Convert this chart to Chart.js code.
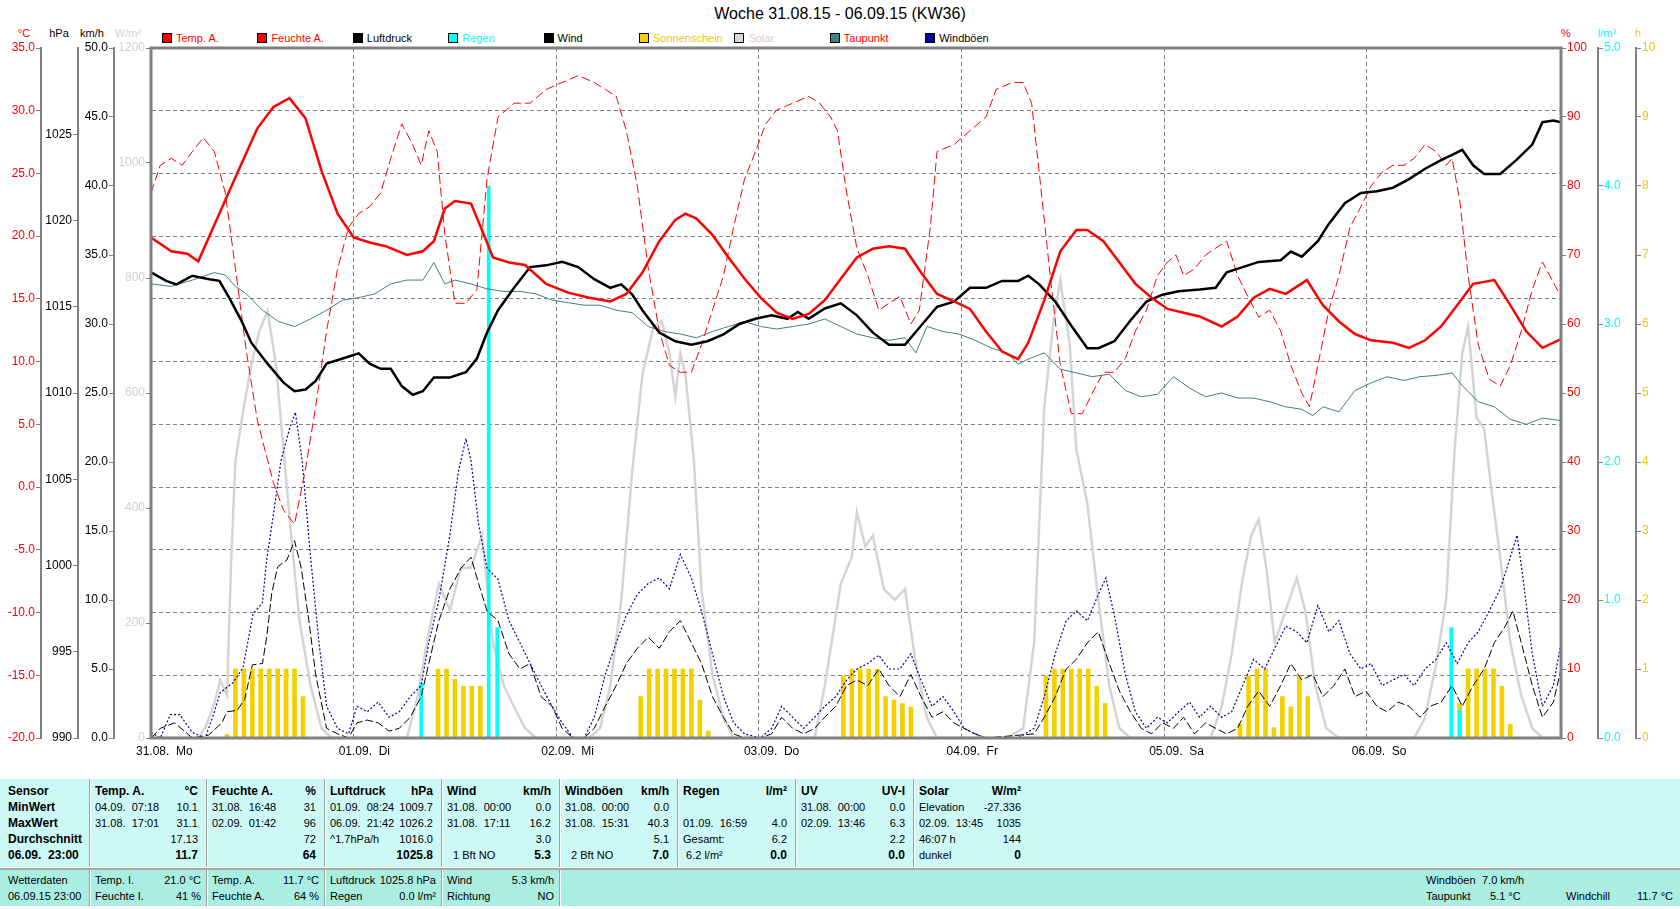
<!DOCTYPE html>
<html lang="de">
<head>
  <meta charset="UTF-8">
  <title>Woche 31.08.15 - 06.09.15 (KW36)</title>
  <script src="https://cdn.jsdelivr.net/npm/chart.js"></script>
  <style>
    body { margin: 0; width: 1680px; height: 909px; overflow: hidden; background: #fff;
           font-family: "Liberation Sans", Arial, sans-serif; color: #000; }
    .abs { position: absolute; white-space: pre; }
    #title { left: 0; top: 5px; width: 1680px; text-align: center; font-size: 16px; }
    .unit { top: 27px; font-size: 11px; width: 40px; text-align: center; }
    .leg { top: 32px; font-size: 11px; height: 13px; line-height: 13px; }
    .leg i { display: inline-block; width: 10px; height: 10px; box-sizing: border-box;
             border: 1px solid #000; vertical-align: -1px; margin-right: 4px; }
    .panel { position: absolute; left: 0; width: 1680px; font-size: 11px; }
    #stats { top: 779px; height: 88px; background: #ccf9f5; }
    #current { top: 868px; height: 38px; background: #aaeee2; border-top: 2px solid #a8a8a8; box-sizing: border-box; }
    .col { position: absolute; top: 0; height: 100%; box-sizing: border-box; padding: 4px 8px 0 5px;
           border-left: 1px solid #a0a0a0; box-shadow: inset 1px 0 0 #fff; }
    #current .col { padding: 2px 5px 0 5px; }
    .row { height: 16px; line-height: 16px; display: flex; justify-content: space-between; white-space: pre; }
    .b { font-weight: bold; font-size: 12px; }
  </style>
</head>
<body>

<div id="title" class="abs">Woche 31.08.15 - 06.09.15 (KW36)</div>
<div class="abs unit" style="left:4px;color:#ff0000">°C</div>
<div class="abs unit" style="left:39px">hPa</div>
<div class="abs unit" style="left:72px">km/h</div>
<div class="abs unit" style="left:108px;color:#d0d0d0">W/m²</div>
<div class="abs unit" style="left:1546px;color:#ff0000">%</div>
<div class="abs unit" style="left:1587px;color:#00ffff">l/m²</div>
<div class="abs unit" style="left:1618px;color:#f0c800">h</div>
<div id="legend"></div>

<div style="position:absolute;left:0;top:0;width:1680px;height:775px">
  <canvas id="weekChart" width="1680" height="775"></canvas>
</div>

<div id="stats" class="panel">
  <div class="col" style="left:0;width:89px;border-left:none;box-shadow:none;padding-left:8px">
    <div class="row b">Sensor</div><div class="row b">MinWert</div><div class="row b">MaxWert</div>
    <div class="row b">Durchschnitt</div><div class="row b">06.09.  23:00</div>
  </div>
  <div class="col" style="left:89px;width:117px">
    <div class="row b"><span>Temp. A.</span><span>°C</span></div>
    <div class="row"><span>04.09.  07:18</span><span>10.1</span></div>
    <div class="row"><span>31.08.  17:01</span><span>31.1</span></div>
    <div class="row"><span></span><span>17.13</span></div>
    <div class="row"><span></span><span class="b">11.7</span></div>
  </div>
  <div class="col" style="left:206px;width:118px">
    <div class="row b"><span>Feuchte A.</span><span>%</span></div>
    <div class="row"><span>31.08.  16:48</span><span>31</span></div>
    <div class="row"><span>02.09.  01:42</span><span>96</span></div>
    <div class="row"><span></span><span>72</span></div>
    <div class="row"><span></span><span class="b">64</span></div>
  </div>
  <div class="col" style="left:324px;width:117px">
    <div class="row b"><span>Luftdruck</span><span>hPa</span></div>
    <div class="row"><span>01.09.  08:24</span><span>1009.7</span></div>
    <div class="row"><span>06.09.  21:42</span><span>1026.2</span></div>
    <div class="row"><span>^1.7hPa/h</span><span>1016.0</span></div>
    <div class="row"><span></span><span class="b">1025.8</span></div>
  </div>
  <div class="col" style="left:441px;width:118px">
    <div class="row b"><span>Wind</span><span>km/h</span></div>
    <div class="row"><span>31.08.  00:00</span><span>0.0</span></div>
    <div class="row"><span>31.08.  17:11</span><span>16.2</span></div>
    <div class="row"><span></span><span>3.0</span></div>
    <div class="row"><span>  1 Bft NO</span><span class="b">5.3</span></div>
  </div>
  <div class="col" style="left:559px;width:118px">
    <div class="row b"><span>Windböen</span><span>km/h</span></div>
    <div class="row"><span>31.08.  00:00</span><span>0.0</span></div>
    <div class="row"><span>31.08.  15:31</span><span>40.3</span></div>
    <div class="row"><span></span><span>5.1</span></div>
    <div class="row"><span>  2 Bft NO</span><span class="b">7.0</span></div>
  </div>
  <div class="col" style="left:677px;width:118px">
    <div class="row b"><span>Regen</span><span>l/m²</span></div>
    <div class="row"><span></span><span></span></div>
    <div class="row"><span>01.09.  16:59</span><span>4.0</span></div>
    <div class="row"><span>Gesamt:</span><span>6.2</span></div>
    <div class="row"><span> 6.2 l/m²</span><span class="b">0.0</span></div>
  </div>
  <div class="col" style="left:795px;width:118px">
    <div class="row b"><span>UV</span><span>UV-I</span></div>
    <div class="row"><span>31.08.  00:00</span><span>0.0</span></div>
    <div class="row"><span>02.09.  13:46</span><span>6.3</span></div>
    <div class="row"><span></span><span>2.2</span></div>
    <div class="row"><span></span><span class="b">0.0</span></div>
  </div>
  <div class="col" style="left:913px;width:118px;padding-right:10px">
    <div class="row b"><span>Solar</span><span>W/m²</span></div>
    <div class="row"><span>Elevation</span><span>-27.336</span></div>
    <div class="row"><span>02.09.  13:45</span><span>1035</span></div>
    <div class="row"><span>46:07 h</span><span>144</span></div>
    <div class="row"><span>dunkel</span><span class="b">0</span></div>
  </div>
</div>

<div id="current" class="panel">
  <div class="col" style="left:0;width:89px;border-left:none;box-shadow:none;padding-left:8px">
    <div class="row">Wetterdaten</div><div class="row">06.09.15 23:00</div>
  </div>
  <div class="col" style="left:89px;width:117px">
    <div class="row"><span>Temp. I.</span><span>21.0 °C</span></div>
    <div class="row"><span>Feuchte I.</span><span>41 %</span></div>
  </div>
  <div class="col" style="left:206px;width:118px">
    <div class="row"><span>Temp. A.</span><span>11.7 °C</span></div>
    <div class="row"><span>Feuchte A.</span><span>64 %</span></div>
  </div>
  <div class="col" style="left:324px;width:117px">
    <div class="row"><span>Luftdruck</span><span>1025.8 hPa</span></div>
    <div class="row"><span>Regen</span><span>0.0 l/m²</span></div>
  </div>
  <div class="col" style="left:441px;width:118px">
    <div class="row"><span>Wind</span><span>5.3 km/h</span></div>
    <div class="row"><span>Richtung</span><span>NO</span></div>
  </div>
  <div class="col" style="left:559px;width:1121px;padding:0">
    <div class="abs" style="left:866px;top:2px;line-height:16px">Windböen</div>
    <div class="abs" style="left:922px;top:2px;line-height:16px">7.0 km/h</div>
    <div class="abs" style="left:866px;top:18px;line-height:16px">Taupunkt</div>
    <div class="abs" style="left:930px;top:18px;line-height:16px">5.1 °C</div>
    <div class="abs" style="left:1006px;top:18px;line-height:16px">Windchill</div>
    <div class="abs" style="right:7px;top:18px;line-height:16px">11.7 °C</div>
  </div>
</div>

<script>
  // x = Stunden seit 31.08. 00:00
  const dayLabels = ['31.08.  Mo', '01.09.  Di', '02.09.  Mi', '03.09.  Do', '04.09.  Fr', '05.09.  Sa', '06.09.  So'];

  const tempHours = [0,2.4,4.3,5.6,7.5,10.0,12.6,14.5,16.4,18.3,20.2,22.1,24.0,25.9,27.8,30.3,32.2,33.5,34.8,36.0,37.9,39.2,40.5,42.4,44.3,46.8,49.4,51.9,54.4,56.3,58.2,60.2,62.1,63.3,64.6,66.5,68.4,70.3,72.2,74.1,76.0,77.9,79.8,81.7,83.6,85.5,87.4,89.3,91.2,93.1,95.1,97.0,98.9,100.8,102.7,103.9,105.8,107.7,109.6,110.9,112.8,114.7,116.6,118.5,120.4,122.3,124.2,126.8,128.7,130.6,132.5,134.4,136.9,138.8,140.7,142.6,144.5,147.1,149.0,150.9,152.8,154.7,156.6,159.1,161.0,162.9,164.8,167];
  const tempValues = [19.9,18.8,18.6,18.0,20.9,24.7,28.6,30.3,31.0,29.4,25.2,21.8,19.9,19.5,19.2,18.5,18.8,19.6,22.2,22.8,22.6,20.5,18.3,17.9,17.7,16.2,15.5,15.1,14.8,15.4,17.1,19.6,21.3,21.8,21.4,20.1,18.3,16.6,15.1,13.9,13.4,13.8,14.9,16.6,18.3,19.0,19.2,19.0,17.1,15.4,14.8,14.2,12.4,10.8,10.2,11.5,14.9,18.8,20.5,20.5,19.6,17.9,16.2,15.1,14.2,13.9,13.6,12.8,13.6,15.1,15.8,15.4,16.5,14.5,13.2,12.2,11.7,11.5,11.1,11.7,12.8,14.5,16.2,16.5,14.5,12.4,11.1,11.8];

  const humHours = [0,1.1,2.4,3.7,4.9,6.2,7.5,8.8,10.0,11.3,12.6,14.5,15.7,17.0,18.3,19.5,20.8,22.1,23.4,24.6,25.9,27.2,28.4,29.7,31.0,32.0,32.9,33.9,34.8,36.0,37.3,38.6,39.8,41.1,43.0,44.9,46.8,48.7,50.6,52.5,53.8,55.1,56.3,57.6,58.9,60.2,61.4,62.7,64.0,65.2,66.5,67.8,69.0,70.3,71.6,72.8,74.1,76.0,77.9,79.2,80.5,81.3,82.4,83.6,84.9,86.2,87.4,88.7,90.0,91.0,92.3,93.1,95.1,97.0,98.9,100.1,102.0,103.3,104.3,105.2,106.5,107.7,109.0,110.3,111.5,112.8,114.1,115.4,116.6,117.9,119.2,120.4,121.4,122.3,123.6,124.9,126.1,127.4,128.7,129.9,131.2,132.5,133.8,135.0,136.3,137.2,138.2,139.5,140.7,142.0,143.3,144.5,145.8,147.1,148.4,149.6,150.9,152.2,153.4,154.1,155.0,156.0,157.2,158.5,159.8,161.0,162.3,163.6,164.8,166.1,167];
  const humValues = [79,83,84,83,85,87,85,79,68,56,46,37,33,31,39,48,59,68,74,76,77,79,84,89,86,83,88,85,73,63,63,65,81,90,92,92,94,95,96,95,94,93,88,80,68,59,54,53,53,57,62,67,74,81,85,89,91,92,93,92,90,88,79,71,67,62,63,64,60,62,74,85,86,88,90,94,95,95,92,82,67,54,47,47,50,53,53,55,59,62,67,69,70,67,68,70,71,72,67,64,61,62,59,54,50,48,54,62,67,74,77,80,82,83,83,84,86,85,83,84,78,67,57,52,51,54,59,65,69,66,64];

  const presHours = [0,1.8,3.0,4.9,6.9,8.1,9.4,10.7,11.9,13.8,15.7,17.0,18.3,19.5,20.8,22.7,24.6,25.9,27.2,28.4,29.7,31.0,32.2,33.5,35.4,37.3,38.6,39.8,41.1,43.0,44.9,46.8,48.7,50.6,52.5,54.4,55.7,57.0,58.2,60.2,62.1,64.0,65.9,67.8,69.7,71.6,73.5,75.4,76.6,77.9,79.8,81.7,83.6,85.5,87.4,89.3,91.2,93.1,95.1,97.0,98.9,100.8,102.7,103.9,105.2,107.1,109.0,110.9,112.2,114.1,116.0,117.9,119.8,121.7,124.2,126.1,127.4,129.3,131.2,133.8,135.0,136.3,138.2,139.5,141.4,143.3,145.2,147.1,149.0,150.9,152.8,154.1,155.3,156.6,157.9,159.8,161.7,163.6,164.8,166.1,167];
  const presValues = [1017.0,1016.5,1016.3,1016.8,1016.6,1016.5,1015.4,1014.2,1012.9,1011.7,1010.6,1010.1,1010.2,1010.7,1011.7,1012.0,1012.3,1011.7,1011.4,1011.4,1010.4,1009.9,1010.1,1010.9,1010.9,1011.2,1012.0,1013.5,1014.8,1016.1,1017.3,1017.4,1017.6,1017.3,1016.6,1016.1,1016.3,1015.7,1014.8,1013.5,1013.0,1012.8,1013.0,1013.4,1014.0,1014.3,1014.5,1014.3,1014.7,1014.3,1014.9,1015.2,1014.5,1013.5,1012.8,1012.8,1013.9,1015.0,1015.3,1016.1,1016.1,1016.5,1016.5,1016.8,1016.3,1015.3,1013.9,1012.6,1012.6,1013.0,1014.2,1015.3,1015.7,1015.9,1016.0,1016.1,1017.0,1017.3,1017.6,1017.7,1018.2,1017.9,1018.8,1019.8,1021.0,1021.6,1021.7,1021.9,1022.4,1023.0,1023.5,1023.8,1024.1,1023.2,1022.7,1022.7,1023.5,1024.4,1025.7,1025.8,1025.7];

  const dewHours = [0,2.4,4.9,7.5,8.8,10.0,11.3,13.2,15.1,17.0,18.9,20.8,22.7,24.6,26.5,28.4,30.3,32.2,33.5,34.8,36.0,37.9,39.8,41.8,43.7,45.6,47.5,49.4,51.3,53.2,55.1,57.0,58.9,60.8,62.7,64.6,66.5,68.4,70.3,72.2,74.1,76.0,77.9,79.8,81.7,83.6,85.5,87.4,89.3,90.6,91.9,93.8,95.7,97.6,99.5,101.4,102.7,103.9,105.8,107.7,109.6,111.5,113.5,115.4,117.3,119.2,121.1,123.0,124.9,126.8,128.7,130.6,132.5,134.4,136.3,137.6,138.8,140.7,142.6,144.5,146.4,148.4,150.3,152.2,154.1,155.3,157.2,159.1,161.0,162.9,164.8,167];
  const dewValues = [16.2,16.0,16.5,17.1,16.9,16.0,15.4,14.1,13.2,12.8,13.4,14.1,14.9,15.1,15.4,16.2,16.5,16.5,17.9,16.2,16.5,16.2,15.8,15.6,15.6,15.4,14.9,14.7,14.5,14.5,14.1,13.9,12.8,12.4,12.2,11.9,12.4,12.8,13.2,12.8,12.6,12.8,13.0,13.4,12.8,12.2,11.9,11.7,11.9,10.7,12.8,12.4,12.2,11.7,11.1,10.7,9.8,10.2,10.7,9.4,9.1,8.8,9.0,7.7,7.2,7.4,8.8,7.9,7.2,7.5,7.1,7.1,6.8,6.4,6.2,5.7,6.4,6.0,7.7,8.3,8.8,8.5,8.8,8.9,9.1,8.1,6.8,6.4,5.4,5.0,5.5,5.3];

  const solarHours = [0,5.6,6.5,7.5,8.2,9.0,9.5,10.0,11.0,11.9,12.8,13.8,14.8,15.7,16.6,17.6,18.9,20.2,21.4,
    30.3,31.6,32.9,34.1,35.4,36.7,37.9,39.2,40.5,41.8,43.0,44.3,45.6,
    51.9,53.2,54.4,55.7,57.0,58.2,59.5,60.5,61.4,62.1,62.7,63.3,64.3,65.2,66.5,67.8,69.0,
    78.6,79.8,81.7,83.0,83.6,84.6,85.5,86.8,88.1,89.3,90.6,91.9,93.1,
    101.4,103.3,104.6,105.8,106.9,107.7,108.8,109.6,110.9,112.2,113.5,114.7,116.0,
    125.5,126.8,128.0,129.3,130.3,131.2,132.1,133.1,134.4,135.7,136.7,137.9,139.2,140.7,
    149.6,150.9,152.2,153.4,154.4,155.3,156.0,157.0,157.9,158.8,159.8,161.0,162.3,163.6,164.8,167];
  const solarValues = [0,0,20,60,100,75,310,483,576,650,706,743,650,501,352,203,91,17,0,
    0,73,184,268,222,296,296,352,166,91,54,17,0,
    0,17,91,240,464,632,715,725,669,594,669,632,483,259,110,35,0,
    0,91,268,315,393,333,352,259,240,259,128,35,0,
    0,17,166,576,725,796,687,501,408,240,91,17,0,
    0,54,147,278,352,380,296,166,222,278,222,91,17,0,
    0,35,128,240,501,669,715,557,538,427,315,166,73,17,0,0];

  const windHours = [0,1.1,2.8,4.9,6.8,8.4,9.0,10.2,11.1,12.0,13.2,13.7,14.3,15.0,16.1,17.0,17.8,18.7,19.5,20.8,22.1,23.4,24.4,25.6,26.9,28.2,29.4,30.7,32.0,32.9,34.1,35.4,36.7,37.9,38.8,39.8,41.1,42.4,43.7,44.9,46.2,47.5,48.7,50.0,51.3,52.5,53.8,55.1,56.3,57.6,58.9,60.2,61.4,62.7,64.0,65.2,66.5,67.8,69.0,70.3,72.2,73.5,74.7,76.0,77.3,78.6,79.8,81.1,82.4,83.6,84.9,86.2,87.4,88.7,90.0,91.2,92.5,93.8,95.1,96.3,97.6,98.9,104.6,105.8,107.1,108.4,109.6,110.9,112.2,113.5,114.7,116.0,117.3,118.5,119.8,121.1,122.3,123.6,124.9,126.1,127.4,128.7,129.9,131.2,132.5,133.8,135.0,136.3,137.6,138.8,140.1,141.4,142.6,143.9,145.2,146.4,147.7,149.0,150.3,151.5,152.8,154.1,155.3,156.6,157.9,159.1,160.4,161.3,162.3,163.6,164.8,166.1,167];
  const windValues = [0,0.7,1.1,0,0.2,1.1,1.9,2.0,2.8,5.3,5.4,7.3,10.5,12.4,12.9,14.3,12.3,8.5,4.6,0.7,0.3,0,1.1,1.3,1.1,0.5,0.7,1.5,3.0,5.4,8.5,10.8,12.3,13.1,11.2,9.2,8.5,6.1,5.0,5.4,3.0,2.3,0.7,0,0,0.7,2.3,3.8,5.4,6.5,7.3,6.5,7.7,8.5,6.9,5.4,3.0,1.5,0.3,0,0,0.3,1.5,0.7,0.3,0.7,1.5,2.3,3.8,4.2,3.8,5.0,3.8,3.0,4.6,3.0,1.5,1.9,1.1,0.7,0.3,0,0.3,1.5,3.0,5.0,5.7,6.9,7.7,5.4,3.4,1.9,0.7,0.3,1.1,0.7,1.5,0.3,1.1,0.7,0.3,0.7,2.3,3.4,2.3,3.8,5.4,4.2,4.6,3.0,3.8,5.0,3.0,3.4,2.3,1.9,2.6,2.3,1.5,2.3,2.6,3.8,2.3,3.8,5.0,6.9,8.1,9.2,6.9,3.8,1.5,2.6,5.0];

  const gustHours = [0,1.1,2.3,3.4,4.9,6.4,7.3,8.2,9.7,10.9,12.1,13.2,13.7,14.5,15.4,16.4,17.1,17.9,18.9,19.9,20.8,22.1,23.4,24.4,25.6,26.9,28.2,29.4,30.7,32.0,32.9,34.1,35.4,36.4,37.3,37.9,38.8,39.8,41.1,42.4,43.7,44.9,46.2,47.5,48.7,50.0,51.3,52.5,53.8,55.1,56.3,57.6,58.9,60.2,61.4,62.7,64.0,65.2,66.5,67.8,69.0,70.3,72.2,73.5,74.7,76.0,77.3,78.6,79.8,81.1,82.4,83.6,84.9,86.2,87.4,88.7,90.0,91.2,92.5,93.8,95.1,96.3,97.6,98.9,102.7,104.6,105.8,107.1,108.4,109.6,110.9,112.2,113.1,114.1,115.4,116.6,117.9,119.2,120.4,121.7,123.0,124.2,125.5,126.8,128.0,129.3,130.6,131.9,133.1,134.4,135.7,136.9,138.2,139.5,140.7,142.0,143.3,144.5,145.8,147.1,148.4,149.6,150.9,152.2,153.4,154.7,156.0,157.2,158.5,159.8,161.0,161.8,162.5,163.6,164.8,166.1,167];
  const gustValues = [0.4,0,1.7,1.7,0.4,0,1.5,3.3,4.0,5.1,9.0,9.8,12.9,16.2,20.1,22.4,23.6,20.1,13.1,6.9,2.3,0.7,0.3,2.3,1.9,2.6,1.5,1.9,3.0,3.8,6.9,10.0,14.7,19.3,21.7,20.1,15.5,12.3,11.5,8.5,6.9,5.4,3.8,2.3,1.1,0,0,1.5,4.6,6.9,8.9,10.4,11.2,11.6,10.8,13.3,11.6,9.2,6.1,3.0,1.1,0.3,0,0.7,2.3,1.5,0.7,1.5,2.3,3.0,4.2,5.0,5.4,6.0,5.0,5.0,6.1,4.2,2.3,3.0,1.9,0.7,0.3,0,0,0.7,3.0,6.1,8.5,9.2,8.5,10.4,11.6,8.9,4.6,1.9,0.7,1.5,1.1,1.9,2.6,1.5,2.3,1.5,1.9,3.8,5.7,5.0,6.5,8.1,7.7,6.9,9.6,7.7,8.5,6.1,5.0,5.4,3.8,4.2,4.6,3.8,5.0,5.7,6.9,5.4,6.9,7.7,9.2,10.8,13.1,14.7,11.6,6.1,2.3,3.8,6.9];

  const sunHours = [9,10,11,12,13,14,15,16,17,18, 34,35,36,37,38,39, 58,59,60,61,62,63,64,65,66, 82,83,84,85,86,87,88,89,90, 106,107,108,109,110,111,112,113, 129,130,131,132,133,134,135,136,137, 155,156,157,158,159,160,161];
  const sunValues = [0.05,1,1,1,1,1,1,1,1,0.6, 1,1,0.85,0.75,0.75,0.75, 0.6,1,1,1,1,1,1,0.55,0.1, 0.9,1,1,1,1,0.6,0.55,0.5,0.45, 0.9,1,1,1,1,1,0.75,0.5, 0.2,0.9,1,1,0.15,0.6,0.45,0.9,0.6, 0.5,1,1,1,1,0.75,0.2];

  const rainHours = [32, 40, 41, 154, 155];
  const rainValues = [0.4, 4.0, 0.8, 0.8, 0.2];

  const legendNames = ['Temp. A.', 'Feuchte A.', 'Luftdruck', 'Regen', 'Wind', 'Sonnenschein', 'Solar', 'Taupunkt', 'Windböen'];
  const legendBoxColors = ['#ff0000', '#ff0000', '#000000', '#00ffff', '#000000', '#f5d000', '#d8d8d8', '#408080', '#0000a0'];
  const legendTextColors = ['#ff0000', '#ff0000', '#000000', '#00ffff', '#000000', '#f0c800', '#d0d0d0', '#ff0000', '#000000'];

  const legend = document.getElementById('legend');
  legendNames.forEach((name, i) => {
    const d = document.createElement('div');
    d.className = 'abs leg';
    d.style.left = (162 + i * 95.4) + 'px';
    d.style.color = legendTextColors[i];
    d.innerHTML = '<i style="background:' + legendBoxColors[i] + '"></i>';
    d.appendChild(document.createTextNode(name));
    legend.appendChild(d);
  });

  const toPoints = (hours, values) => hours.map((h, i) => ({ x: h, y: values[i] }));

  Chart.defaults.font.family = '"Liberation Sans", Arial, sans-serif';
  Chart.defaults.font.size = 12;

  const gray = '#808080';
  function sideAxis(position, weight, width, min, max, step, color, fmt) {
    return {
      type: 'linear', position: position, weight: weight, min: min, max: max,
      ticks: { stepSize: step, color: color, padding: 1, autoSkip: false, callback: fmt },
      grid: { drawOnChartArea: false, color: gray, tickLength: 5 },
      border: { color: gray, width: 2 },
      afterFit: scale => { scale.width = width; }
    };
  }

  const plotFrame = {
    id: 'plotFrame',
    afterDraw(chart) {
      const { ctx, chartArea: a } = chart;
      ctx.save();
      ctx.strokeStyle = gray;
      ctx.lineWidth = 3;
      ctx.strokeRect(a.left, a.top, a.right - a.left, a.bottom - a.top);
      ctx.restore();
    }
  };

  const line = (label, hours, values, axis, color, width, dash, order) => ({
    type: 'line', label: label, data: toPoints(hours, values), yAxisID: axis,
    borderColor: color, backgroundColor: color, borderWidth: width, borderDash: dash,
    pointRadius: 0, tension: 0, order: order
  });

  const ctx = document.getElementById('weekChart').getContext('2d');
  const chart = new Chart(ctx, {
    type: 'line',
    data: {
      datasets: [
        line('Solar', solarHours, solarValues, 'ySolar', '#d4d4d4', 2.5, [], 9),
        { type: 'bar', label: 'Sonnenschein', data: toPoints(sunHours, sunValues), yAxisID: 'ySun',
          backgroundColor: '#f5d000', barThickness: 4, grouped: false, order: 8 },
        { type: 'bar', label: 'Regen', data: toPoints(rainHours, rainValues), yAxisID: 'yRain',
          backgroundColor: '#00ffff', barThickness: 3, grouped: false, order: 7 },
        line('Taupunkt', dewHours, dewValues, 'yTemp', '#408080', 1, [], 6),
        line('Wind', windHours, windValues, 'yWind', '#000000', 1, [8, 3], 5),
        line('Windböen', gustHours, gustValues, 'yWind', '#0000a0', 1.2, [2, 2], 4),
        line('Feuchte A.', humHours, humValues, 'yHum', '#ff0000', 1, [9, 4], 3),
        line('Luftdruck', presHours, presValues, 'yPres', '#000000', 2.5, [], 2),
        line('Temp. A.', tempHours, tempValues, 'yTemp', '#ff0000', 2.5, [], 1)
      ]
    },
    options: {
      responsive: false,
      animation: false,
      layout: { padding: { top: 48, bottom: 7, left: 0, right: 0 } },
      plugins: { legend: { display: false }, tooltip: { enabled: false }, title: { display: false } },
      scales: {
        x: {
          type: 'linear', min: 0, max: 167, offset: false,
          ticks: { stepSize: 24, includeBounds: false, autoSkip: false, maxRotation: 0, color: '#000',
                   align: 'start', labelOffset: -15, padding: 6,
                   callback: v => dayLabels[v / 24] },
          grid: { color: gray, drawTicks: false, offset: false },
          border: { display: false, dash: [4, 3] },
          afterFit: scale => { scale.height = 30; }
        },
        yTemp: {
          type: 'linear', position: 'left', weight: 4, min: -20, max: 35,
          ticks: { stepSize: 5, color: '#ff0000', padding: 1, autoSkip: false, callback: v => v.toFixed(1) },
          grid: { color: gray, tickLength: 5, tickBorderDash: [] },
          border: { color: gray, width: 2, dash: [4, 3] },
          afterFit: scale => { scale.width = 41; }
        },
        yPres: sideAxis('left', 3, 37, 990, 1030, 5, '#000000', v => (v === 1030 ? null : String(v))),
        yWind: sideAxis('left', 2, 36, 0, 50, 5, '#000000', v => v.toFixed(1)),
        ySolar: sideAxis('left', 1, 37, 0, 1200, 200, '#d0d0d0', v => String(v)),
        yHum: sideAxis('right', 1, 37, 0, 100, 10, '#ff0000', v => String(v)),
        yRain: sideAxis('right', 2, 38, 0, 5, 1, '#00ffff', v => v.toFixed(1)),
        ySun: sideAxis('right', 3, 44, 0, 10, 1, '#f0c800', v => String(v))
      }
    },
    plugins: [plotFrame]
  });
</script>

</body>
</html>
